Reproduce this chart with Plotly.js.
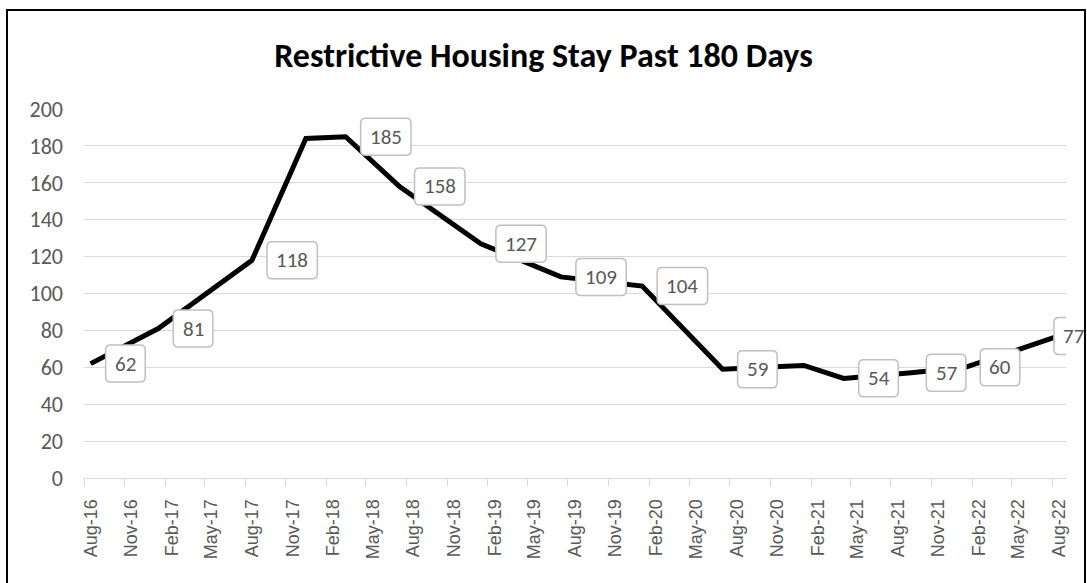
<!DOCTYPE html>
<html>
<head>
<meta charset="utf-8">
<script src="https://cdn.plot.ly/plotly-3.0.1.min.js"></script>
<style>
  html, body { margin: 0; padding: 0; background: #ffffff; overflow: hidden; }
  #wrap { position: relative; width: 1087px; height: 583px; }
  #chart { position: absolute; left: 0; top: 0; width: 1087px; height: 583px; }
  #frame { position: absolute; left: 6px; top: 9px; width: 1076px; height: 600px;
           border: 2px solid #000; pointer-events: none; }
</style>
</head>
<body>
<div id="wrap">
  <div id="chart"></div>
  <div id="frame"></div>
</div>
<script>
// Observation dates (plotted at the middle of their month on a monthly date axis)
const dates = [
  "2016-08-16", "2017-01-16", "2017-08-16", "2017-12-16", "2018-03-16",
  "2018-07-16", "2019-01-16", "2019-07-16", "2020-01-16", "2020-07-16",
  "2021-01-16", "2021-04-16", "2021-09-16", "2022-01-16", "2022-08-16"
];
// Number of people in restrictive housing past 180 days
const values = [62, 81, 118, 184, 185, 158, 127, 109, 104, 59, 61, 54, 57, 60, 77];
// Data labels shown on the chart ("" = no label on that point)
const pointLabels = ["62", "81", "118", "", "185", "158", "127", "109", "104", "59", "", "54", "57", "60", "77"];

const chartTitle = "Restrictive Housing Stay Past 180 Days";
const axisStart = "2016-08-01";
const axisEnd = "2022-09-01";

const labelFont = { family: "Carlito, Calibri, 'Liberation Sans', Arial, sans-serif", size: 21, color: "#595959" };

// rounded label boxes (pixel-sized shapes anchored on the data point) + text annotations
function roundedBox(x0, x1, y0, y1, r) {
  return `M${x0 + r},${y0} L${x1 - r},${y0} Q${x1},${y0} ${x1},${y0 + r} ` +
         `L${x1},${y1 - r} Q${x1},${y1} ${x1 - r},${y1} L${x0 + r},${y1} ` +
         `Q${x0},${y1} ${x0},${y1 - r} L${x0},${y0 + r} Q${x0},${y0} ${x0 + r},${y0} Z`;
}

const shapes = [];
const annotations = [];
dates.forEach((d, i) => {
  if (!pointLabels[i]) return;
  const last = i === dates.length - 1;
  const w = 18 + 10.8 * pointLabels[i].length;
  const left = last ? -5 : 15;
  const h = 18.5;
  shapes.push({
    type: "path", xref: "x", yref: "y",
    xsizemode: "pixel", ysizemode: "pixel",
    xanchor: d, yanchor: values[i],
    path: roundedBox(left, left + w, -h, h, 5),
    fillcolor: "#ffffff",
    line: { color: "#c0c0c0", width: 1.5 },
    layer: "above"
  });
  annotations.push({
    x: d, y: values[i], xref: "x", yref: "y",
    text: pointLabels[i],
    showarrow: false,
    xanchor: "center", yanchor: "middle",
    xshift: left + w / 2,
    font: labelFont
  });
});

const trace = {
  x: dates, y: values,
  type: "scatter", mode: "lines",
  line: { color: "#000000", width: 5 },
  hoverinfo: "x+y"
};

const layout = {
  width: 1087, height: 583,
  margin: { l: 84, r: 21, t: 109, b: 105 },
  paper_bgcolor: "#ffffff", plot_bgcolor: "#ffffff",
  showlegend: false,
  title: {
    text: "<b>" + chartTitle + "</b>",
    font: { family: "Carlito, Calibri, 'Liberation Sans', Arial, sans-serif", size: 34, color: "#000000" },
    x: 0.5, xref: "container", xanchor: "center",
    y: 1 - 55 / 583, yref: "container", yanchor: "middle"
  },
  xaxis: {
    type: "date",
    range: [axisStart, axisEnd],
    tick0: axisStart, dtick: "M3",
    tickformat: "%b-%y",
    tickangle: -90,
    ticks: "outside", ticklen: 7, tickcolor: "#d9d9d9", tickwidth: 1,
    ticklabelshift: 7,
    ticklabelstandoff: 6,
    showline: true, linecolor: "#d9d9d9", linewidth: 1,
    showgrid: false, zeroline: false,
    tickfont: { family: "'Liberation Sans', Arial, sans-serif", size: 18, color: "#595959" }
  },
  yaxis: {
    range: [0, 200], dtick: 20, tick0: 0,
    showgrid: true, gridcolor: "#d9d9d9", gridwidth: 1,
    zeroline: false, showline: false, ticks: "",
    ticklabelstandoff: 20,
    tickfont: { family: "Carlito, Calibri, 'Liberation Sans', Arial, sans-serif", size: 22, color: "#595959" }
  },
  shapes: shapes,
  annotations: annotations
};

Plotly.newPlot("chart", [trace], layout, { displayModeBar: false, staticPlot: true });
</script>
</body>
</html>
